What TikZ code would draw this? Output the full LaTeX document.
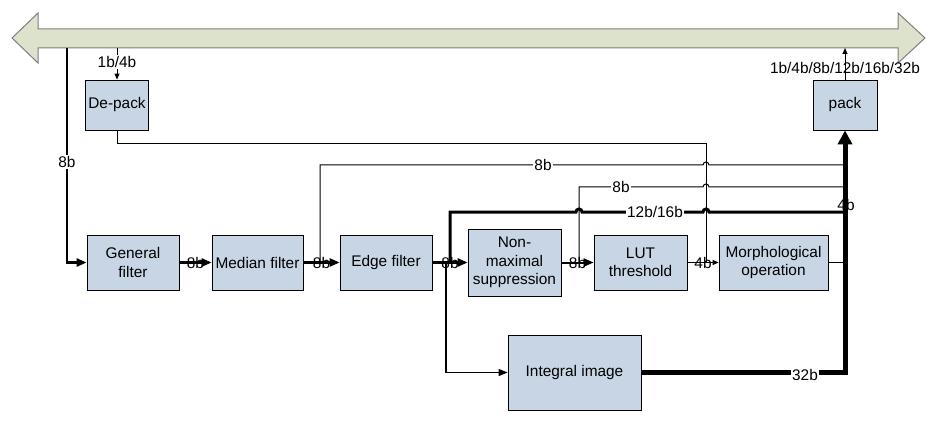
\documentclass[tikz,border=0pt]{standalone}
\usepackage{fontspec}
\setmainfont{Liberation Sans}
\usetikzlibrary{arrows.meta}
\definecolor{blockblue}{HTML}{C8D5E5}
\definecolor{busgreen}{HTML}{DDE2CC}
\definecolor{busline}{HTML}{7F7F7F}

\begin{document}
\begin{tikzpicture}[x=1pt, y=1pt, font=\fontsize{15.4}{18.5}\selectfont,
    block/.style={draw, fill=blockblue, line width=0.8pt, minimum height=55pt, inner sep=0pt, align=center},
    cutlbl/.style={fill=white, inner sep=1pt},
    bigtip/.style={-{Triangle[length=10pt, width=8pt]}},
    smalltip/.style={-{Triangle[length=6pt, width=5pt]}}]
    \useasboundingbox (0,0) rectangle (942,421);

    % Bus
    \draw[busline, fill=busgreen, line width=1pt] (12,383) -- (38,408) -- (38,392) -- (898,392) -- (898,408)
        -- (925,383) -- (898,358) -- (898,373) -- (38,373) -- (38,358) -- cycle;
    \coordinate (busin) at (67,373);
    \coordinate (busdp) at (117,373);
    \coordinate (busout) at (845,373);

    % Blocks
    \node[block, minimum width=63pt, minimum height=50pt] (depack) at (117,316) {De-pack};
    \node[block, minimum width=64pt, minimum height=50pt] (pack) at (845,316) {pack};
    \node[block, minimum width=92pt] (gf) at (133,158.5) {General\\filter};
    \node[block, minimum width=91pt] (mf) at (257.5,158.5) {Median filter};
    \node[block, minimum width=92pt] (ef) at (386,158.5) {Edge filter};
    \node[block, minimum width=93pt, minimum height=67pt] (nms) at (514.5,158.5) {Non-\\maximal\\suppression};
    \node[block, minimum width=93pt] (lut) at (640.5,158.5) {LUT\\threshold};
    \node[block, minimum width=109pt] (morph) at (773.5,158.5) {Morphological\\operation};
    \node[block, minimum width=133pt, minimum height=75pt] (ii) at (574.5,48.5) {Integral image};

    % Taps and ends
    \coordinate (t1) at (320,158.5);
    \coordinate (t3) at (450,158.5);
    \coordinate (t3b) at (446,158.5);
    \coordinate (t4) at (579,158.5);
    \coordinate (t5) at (706,158.5);
    \coordinate (e1) at (845,256);
    \coordinate (e2) at (845,234);
    \coordinate (e3) at (845,209);
    \coordinate (e4) at (845,158.5);
    \coordinate (e5) at (845,48.5);

    % Bus in / out
    \draw[line width=2.5pt, bigtip] (busin) |- (gf.west);
    \node[cutlbl] (l0) at (67,259) {8b};
    \draw[line width=1pt, smalltip] (busdp) -- (depack.north);
    \node[cutlbl] (l0b) at (117,359) {1b/4b};
    \draw[line width=1pt, smalltip] (pack.north) -- (busout);
    \node (l0c) at (845,353) {1b/4b/8b/12b/16b/32b};

    % Main chain
    \draw[line width=3pt, bigtip] (gf) -- (mf) node[midway] (l1) {8b};
    \draw[line width=3pt, bigtip] (mf) -- (ef) node[midway] (l2) {8b};
    \draw[line width=3pt, bigtip] (ef) -- (nms) node[midway] (l3) {8b};
    \draw[line width=2pt, bigtip] (nms) -- (lut) node[midway] (l4) {8b};
    \draw[line width=1pt, smalltip] (lut) -- (morph) node[midway] (l5) {4b};
    \draw[line width=1pt] (morph) -- (e4);

    % Side paths to pack
    \draw[line width=1pt] (depack.south) -- ++(0,-13) -| (t5);
    \draw[line width=1pt] (t1) -- (320,256) -- (703,256) arc[start angle=180, end angle=0, radius=3] -- (e1);
    \node[cutlbl] (l6) at (543,256) {8b};
    \draw[line width=1pt] (t4) -- (579,234) -- (703,234) arc[start angle=180, end angle=0, radius=3] -- (e2);
    \node[cutlbl] (l7) at (621,234) {8b};
    \draw[line width=3pt] (t3) -- (450,209) -- (576,209) arc[start angle=180, end angle=0, radius=3]
        -- (703,209) arc[start angle=180, end angle=0, radius=3] -- (e3);
    \node[cutlbl] (l8) at (655,209) {12b/16b};
    \node (l9) at (846,216) {4b};

    % Integral image
    \draw[line width=1.5pt, -{Triangle[length=9pt, width=7pt]}] (t3b) |- (ii.west);
    \draw[line width=5pt, -{Triangle[length=14pt, width=14pt]}] (ii.east) -- (e5) -- (pack.south);
    \node[cutlbl] (l10) at (805,46) {32b};
\end{tikzpicture}
\end{document}
